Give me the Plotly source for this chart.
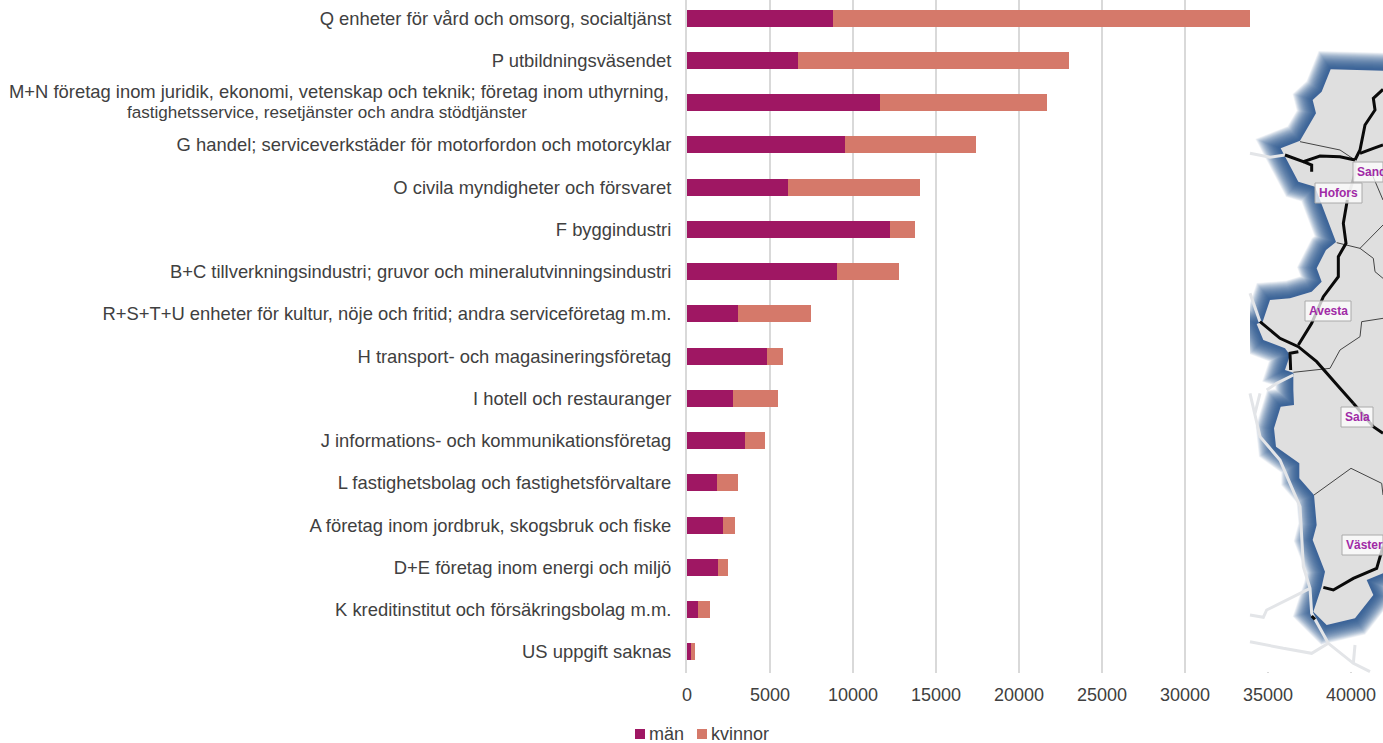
import plotly.graph_objects as go

# branschlista, largest at the top
categories = [
    "Q enheter för vård och omsorg, socialtjänst",
    "P utbildningsväsendet",
    "M+N",
    "G handel; serviceverkstäder för motorfordon och motorcyklar",
    "O civila myndigheter och försvaret",
    "F byggindustri",
    "B+C tillverkningsindustri; gruvor och mineralutvinningsindustri",
    "R+S+T+U enheter för kultur, nöje och fritid; andra serviceföretag m.m.",
    "H transport- och magasineringsföretag",
    "I hotell och restauranger",
    "J informations- och kommunikationsföretag",
    "L fastighetsbolag och fastighetsförvaltare",
    "A företag inom jordbruk, skogsbruk och fiske",
    "D+E företag inom energi och miljö",
    "K kreditinstitut och försäkringsbolag m.m.",
    "US uppgift saknas",
]
man = [8800, 6700, 11630, 9520, 6100, 12230, 9040, 3070, 4820, 2770, 3490, 1800, 2170, 1870, 660, 240]
kvinnor = [25100, 16300, 10060, 7890, 7940, 1500, 3730, 4400, 960, 2710, 1210, 1270, 720, 600, 730, 240]
x_ticks = [0, 5000, 10000, 15000, 20000, 25000, 30000, 35000, 40000]

W, H = 1383, 743
TEXT = "#404040"
FONT = "Liberation Sans"
MAN_COLOR = "#9f1763"
KVINNOR_COLOR = "#d5796a"


def px(pts):
    return "M" + " L".join(f"{x / W:.5f},{1 - y / H:.5f}" for x, y in pts)


def z1(pts):
    return [(1240 + x / 3, 50 + y / 3) for x, y in pts]


def z2(pts):
    return [(1240 + x / 3, 380 + y / 3) for x, y in pts]


land = z1([(429, 62), (272, 58), (245, 125), (218, 150), (228, 190), (180, 272), (122, 295), (175, 395),
           (225, 410), (288, 576), (258, 600), (230, 655), (245, 695), (215, 725), (150, 745), (90, 750),
           (68, 815), (50, 822), (70, 870), (135, 895), (150, 915), (135, 960), (160, 968), (160, 1020)]) + \
    z2([(162, 75), (122, 80), (102, 145), (108, 200), (178, 250), (178, 295), (222, 345), (230, 435),
        (218, 480), (255, 575), (245, 620), (220, 695), (260, 735), (345, 715), (400, 645), (380, 600),
        (429, 580)])
faint = [
    z1([(30, 310), (90, 322), (135, 315)]),
    z1([(30, 730), (60, 815)]),
    z1([(160, 975), (110, 1000), (80, 1020)]),
    z2([(30, 40), (60, 170), (120, 240), (180, 380), (190, 560), (210, 625), (215, 700), (265, 790),
        (340, 850), (390, 875)]),
    z2([(210, 625), (80, 690), (70, 712), (30, 705)]),
    z2([(30, 785), (130, 805), (215, 820), (265, 790)]),
    z2([(345, 795), (340, 850)]),
    z2([(60, 40), (45, 100)]),
]
borders = [
    z1([(180, 275), (300, 300), (345, 330)]),
    z1([(375, 360), (395, 370), (429, 450)]),
    z1([(290, 578), (360, 595), (429, 525)]),
    z1([(360, 595), (400, 625), (405, 665), (429, 685)]),
    z1([(160, 967), (270, 955), (300, 900), (360, 860), (365, 815), (429, 805)]),
    z2([(222, 345), (333, 265), (425, 310), (429, 345)]),
]
rails = [
    z1([(429, 118), (400, 145), (405, 180), (375, 225), (360, 300), (345, 330)]),
    z1([(360, 310), (400, 295), (429, 285)]),
    z1([(345, 330), (300, 320), (240, 318), (190, 335), (135, 315)]),
    z1([(190, 335), (215, 345), (215, 365)]),
    z1([(322, 450), (310, 520), (318, 580), (295, 620), (295, 680), (250, 740), (215, 820), (175, 885)]),
    z1([(60, 815), (120, 865), (175, 890), (230, 935), (300, 1015), (340, 1060)]),
    z1([(175, 905), (150, 910), (152, 960)]),
    z2([(340, 70), (400, 140), (429, 160)]),
    z2([(429, 500), (410, 565), (340, 595), (280, 630), (250, 622)]),
    z2([(215, 708), (225, 718)]),
]
towns = [
    ("Sand", 1353, 1383, 162, 182),
    ("Hofors", 1315, 1362, 183, 203),
    ("Avesta", 1305, 1351, 301, 321),
    ("Sala", 1341, 1373, 407, 427),
    ("Väster", 1342, 1383, 535, 555),
]

fig = go.Figure()
fig.add_trace(go.Bar(y=categories, x=man, name="män", orientation="h", marker={"color": MAN_COLOR, "line": {"width": 0}}))
fig.add_trace(go.Bar(y=categories, x=kvinnor, name="kvinnor", orientation="h", marker={"color": KVINNOR_COLOR, "line": {"width": 0}}))

shapes = [dict(type="rect", xref="paper", yref="paper", x0=1250 / W, x1=1, y0=1 - 672 / H, y1=1,
               fillcolor="white", line={"width": 0})]
for w in range(36, 2, -1):
    shapes.append(dict(type="path", xref="paper", yref="paper", path=px(land), opacity=0.05,
                       line={"color": "#24538f", "width": w}))
# glow must not spill over the chart area
shapes.append(dict(type="rect", xref="paper", yref="paper", x0=1225 / W, x1=1250 / W, y0=1 - 672 / H,
                   y1=1 - 35 / H, fillcolor="white", line={"width": 0}))
for seg in faint:
    shapes.append(dict(type="path", xref="paper", yref="paper", path=px(seg), line={"color": "#e3e5e8", "width": 3}))
shapes.append(dict(type="path", xref="paper", yref="paper", path=px(land) + " Z", fillcolor="#dfdfdf",
                   line={"width": 0}))
for seg in borders:
    shapes.append(dict(type="path", xref="paper", yref="paper", path=px(seg), line={"color": "#444444", "width": 1}))
shapes.append(dict(type="path", xref="paper", yref="paper", path=px(z1([(345, 335), (345, 370), (322, 450)])),
                   line={"color": "#b5b5b5", "width": 3}))
for seg in rails:
    shapes.append(dict(type="path", xref="paper", yref="paper", path=px(seg), line={"color": "#0a0a0a", "width": 3}))

# the two-line label is not right aligned in the original, so each line sits on its own
annotations = [
    dict(xref="paper", yref="y", x=671 / W, y="M+N", yshift=11, xanchor="right", yanchor="middle", showarrow=False,
         text="M+N företag inom juridik, ekonomi, vetenskap och teknik; företag inom uthyrning,",
         font={"family": FONT, "size": 18.4, "color": TEXT}),
    dict(xref="paper", yref="y", x=529 / W, y="M+N", yshift=-10, xanchor="right", yanchor="middle", showarrow=False,
         text="fastighetsservice, resetjänster och andra stödtjänster",
         font={"family": FONT, "size": 17.1, "color": TEXT}),
]
for name, x0, x1, y0, y1 in towns:
    shapes.append(dict(type="rect", xref="paper", yref="paper", x0=x0 / W, x1=x1 / W, y0=1 - y1 / H, y1=1 - y0 / H,
                       fillcolor="rgba(255,255,255,0.75)", line={"color": "#aaaaaa", "width": 1}))
    annotations.append(dict(xref="paper", yref="paper", x=(x0 + 2) / W, y=1 - (y0 + y1) / 2 / H, xanchor="left",
                            yanchor="middle", showarrow=False, text=f"<b>{name}</b>",
                            font={"family": FONT, "size": 12, "color": "#a02aa6"}))

# plotly's own legend keeps a wide gap after the swatch, the original has almost none
for name, color, x0 in [("män", MAN_COLOR, 635), ("kvinnor", KVINNOR_COLOR, 697)]:
    shapes.append(dict(type="rect", xref="paper", yref="paper", x0=x0 / W, x1=(x0 + 10) / W, y0=1 - 739 / H,
                       y1=1 - 729 / H, fillcolor=color, line={"width": 0}))
    annotations.append(dict(xref="paper", yref="paper", x=(x0 + 12) / W, y=1 - 734 / H, xanchor="left",
                            yanchor="middle", showarrow=False, text=name,
                            font={"family": FONT, "size": 18, "color": TEXT}))

fig.update_layout(
    width=W, height=H,
    margin={"l": 0, "r": 0, "t": 0, "b": 0, "autoexpand": False},
    paper_bgcolor="white", plot_bgcolor="white",
    barmode="stack", bargap=0.6,
    font={"family": FONT, "color": TEXT},
    showlegend=False,
    shapes=shapes, annotations=annotations,
    xaxis={"domain": [687 / W, 1], "range": [0, 696 / 0.0166], "tickmode": "array", "tickvals": x_ticks,
           "tickformat": "d", "showgrid": True, "gridcolor": "#d9d9d9", "gridwidth": 2, "zeroline": False,
           "showline": False, "ticks": "", "tickfont": {"size": 18, "color": TEXT}, "automargin": False,
           "ticklabelstandoff": 9},
    yaxis={"domain": [1 - 673 / H, 1], "categoryorder": "array", "categoryarray": categories[::-1],
           "range": [-0.5, 15.43], "showgrid": False, "zeroline": False, "showline": True, "linecolor": "#d9d9d9",
           "linewidth": 2, "ticks": "", "automargin": False, "tickmode": "array", "tickvals": categories,
           "ticktext": [c if c != "M+N" else "" for c in categories],
           "tickfont": {"size": 18.4, "color": TEXT}, "ticklabelstandoff": 10},
)

fig.write_html("out.html", config={"displayModeBar": False}, post_script="document.body.style.margin = '0';")
